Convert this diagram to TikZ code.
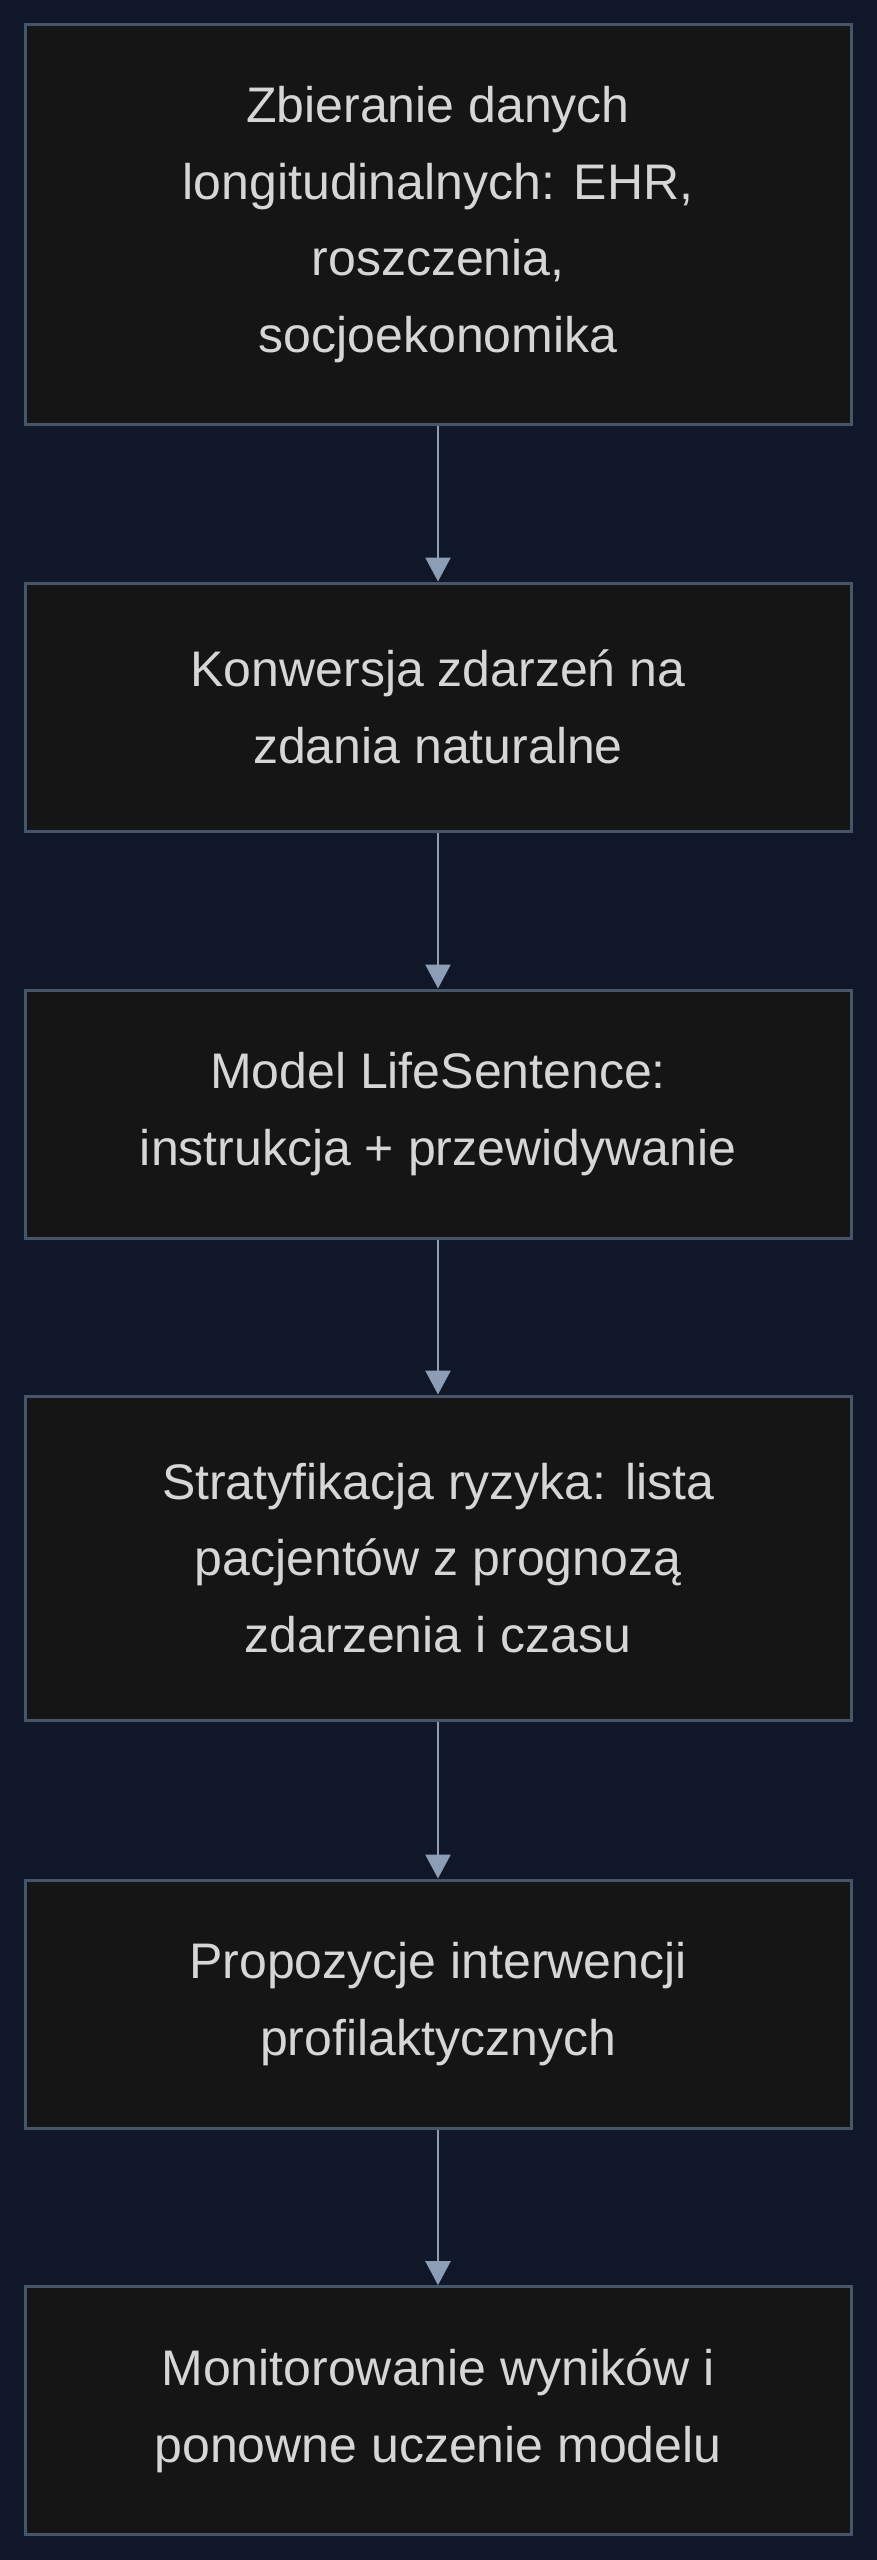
\documentclass[tikz,border=0pt]{standalone}
\usepackage{fontspec}
\setmainfont{Liberation Sans}
\usetikzlibrary{arrows.meta}
\definecolor{bgnavy}{HTML}{0F1729}
\definecolor{boxfill}{HTML}{151515}
\definecolor{boxline}{HTML}{475569}
\definecolor{arrowline}{HTML}{8C9DB5}
\definecolor{boxtext}{HTML}{D6D6D6}
\tikzset{
	stepbox/.style={draw=boxline, fill=boxfill, line width=1.5pt, minimum width=413pt, inner sep=0pt,
		align=center, text=boxtext, font=\fontsize{25}{38.3}\selectfont,
		execute at begin node={\rule{0pt}{31pt}}},
	flowarrow/.style={draw=arrowline, line width=1.3pt, -{Triangle[width=12.5pt,length=12pt]}}
}

\begin{document}
\begin{tikzpicture}[x=1pt, y=1pt]
			%%%%% START %%%%%
			
			\useasboundingbox[fill=bgnavy] (0, 0) rectangle (438.5, -1280);
			
			\node[stepbox, minimum height=200pt] (zbieranie) at (219, -112.3) {Zbieranie danych\\longitudinalnych: EHR,\\roszczenia,\\socjoekonomika};
			\node[stepbox, minimum height=124pt] (konwersja) at (219, -353.5) {Konwersja zdarzeń na\\zdania naturalne};
			\node[stepbox, minimum height=124pt] (model) at (219, -557) {Model LifeSentence:\\instrukcja + przewidywanie};
			\node[stepbox, minimum height=162pt] (stratyfikacja) at (219, -779) {Stratyfikacja ryzyka: lista\\pacjentów z prognozą\\zdarzenia i czasu};
			\node[stepbox, minimum height=124pt] (propozycje) at (219, -1002) {Propozycje interwencji\\profilaktycznych};
			\node[stepbox, minimum height=124pt] (monitorowanie) at (219, -1205.3) {Monitorowanie wyników i\\ponowne uczenie modelu};
			
			\draw[flowarrow] (zbieranie.south) -- (konwersja.north);
			\draw[flowarrow] (konwersja.south) -- (model.north);
			\draw[flowarrow] (model.south) -- (stratyfikacja.north);
			\draw[flowarrow] (stratyfikacja.south) -- (propozycje.north);
			\draw[flowarrow] (propozycje.south) -- (monitorowanie.north);
			
			%%%%% END %%%%%
\end{tikzpicture}
\end{document}
